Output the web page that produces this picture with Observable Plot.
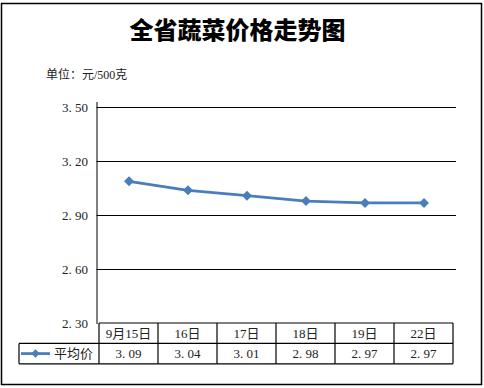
<!DOCTYPE html>
<html>
<head>
<meta charset="utf-8">
<script src="https://cdn.jsdelivr.net/npm/d3@7"></script>
<script src="https://cdn.jsdelivr.net/npm/@observablehq/plot@0.6"></script>
<style>
  html, body { margin: 0; padding: 0; background: #fff; }
  #wrap { position: relative; width: 484px; height: 388px; overflow: hidden; }
  #wrap svg { position: absolute; left: 0; top: 0; }
  #title { position: absolute; left: 0; width: 475px; top: 13px; text-align: center;
    font-family: "Noto Sans CJK SC", sans-serif; font-weight: 900; font-size: 24px; color: #000; line-height: 32px; }
  #unit { position: absolute; left: 46px; top: 67px; font-family: "Liberation Serif", "Noto Sans CJK SC", serif;
    font-size: 12px; color: #222; line-height: 16px; }
</style>
</head>
<body>
<div id="wrap">
  <div id="title"></div>
  <div id="unit"></div>
</div>
<script>
const title = "全省蔬菜价格走势图";
const unitLabel = "单位：元/500克";
const seriesName = "平均价";
const dates = ["9月15日", "16日", "17日", "18日", "19日", "22日"];
const prices = [3.09, 3.04, 3.01, 2.98, 2.97, 2.97];
const yTicks = [2.30, 2.60, 2.90, 3.20, 3.50];

const blue = "#4A7EBB";
const fmt = d => d.toFixed(2).replace(".", ". ");
const data = dates.map((d, i) => ({date: d, price: prices[i]}));

document.getElementById("title").textContent = title;
document.getElementById("unit").textContent = unitLabel;

const chart = Plot.plot({
  width: 484,
  height: 388,
  marginLeft: 96.5,
  marginRight: 28,
  marginTop: 107,
  marginBottom: 65,
  style: {fontFamily: "'Liberation Serif', 'Noto Sans CJK SC', serif", fontSize: "13px", color: "#222", background: "transparent"},
  x: {type: "band", domain: dates, padding: 0, axis: null},
  y: {domain: [2.3, 3.5], axis: null},
  marks: [
    Plot.ruleY(yTicks.slice(1), {stroke: "#000", strokeWidth: 1}),
    Plot.frame({anchor: "left", stroke: "#000", insetTop: -5}),
    Plot.axisY({ticks: yTicks, tickSize: 0, tickPadding: 9, tickFormat: fmt, fontSize: 13, fill: "#222", label: null}),
    Plot.line(data, {x: "date", y: "price", stroke: blue, strokeWidth: 2.8}),
    Plot.dot(data, {x: "date", y: "price", symbol: "square", rotate: 45, r: 4, fill: blue, stroke: "none"})
  ]
});
document.getElementById("wrap").prepend(chart);

// outer chart frame and data table drawn from Plot's scales
const svg = d3.select(chart);
const xs = chart.scale("x");
const ys = chart.scale("y");
const bw = xs.bandwidth;
const x0 = xs.apply(dates[0]);
const x1 = xs.apply(dates[dates.length - 1]) + bw;
const t0 = ys.apply(yTicks[0]);
const rowH = 20.4;
const legendLeft = 19;

svg.append("rect").attr("x", 1.5).attr("y", 3.5).attr("width", 480).attr("height", 381)
  .attr("fill", "none").attr("stroke", "#000").attr("stroke-width", 1.5);

const g = svg.append("g").attr("stroke", "#000").attr("stroke-width", 1.2).attr("fill", "none");
g.append("line").attr("x1", x0).attr("x2", x1).attr("y1", t0).attr("y2", t0);
g.append("line").attr("x1", legendLeft).attr("x2", x1).attr("y1", t0 + rowH).attr("y2", t0 + rowH);
g.append("line").attr("x1", legendLeft).attr("x2", x1).attr("y1", t0 + 2 * rowH).attr("y2", t0 + 2 * rowH);
g.append("line").attr("x1", legendLeft).attr("x2", legendLeft).attr("y1", t0 + rowH).attr("y2", t0 + 2 * rowH);
dates.forEach(d => {
  const x = xs.apply(d);
  g.append("line").attr("x1", x).attr("x2", x).attr("y1", t0).attr("y2", t0 + 2 * rowH);
});
g.append("line").attr("x1", x1).attr("x2", x1).attr("y1", t0).attr("y2", t0 + 2 * rowH);

const tg = svg.append("g").attr("font-family", "'Liberation Serif', 'Noto Sans CJK SC', serif")
  .attr("font-size", 13).attr("fill", "#222").attr("text-anchor", "middle");
dates.forEach((d, i) => {
  const cx = xs.apply(d) + bw / 2;
  tg.append("text").attr("x", cx).attr("y", t0 + rowH / 2).attr("dy", "0.35em").text(d);
  tg.append("text").attr("x", cx).attr("y", t0 + rowH * 1.5).attr("dy", "0.35em").text(fmt(prices[i]));
});

// legend key in the table
const ly = t0 + rowH * 1.5;
svg.append("line").attr("x1", 21).attr("x2", 50).attr("y1", ly).attr("y2", ly)
  .attr("stroke", blue).attr("stroke-width", 2.8);
svg.append("rect").attr("x", -3).attr("y", -3).attr("width", 6).attr("height", 6)
  .attr("fill", blue).attr("transform", `translate(35.5,${ly}) rotate(45)`);
svg.append("text").attr("x", 54).attr("y", ly).attr("dy", "0.35em")
  .attr("text-anchor", "start")
  .attr("font-family", "'Noto Sans CJK SC', sans-serif").attr("font-size", 13).attr("fill", "#222")
  .text(seriesName);
</script>
</body>
</html>
